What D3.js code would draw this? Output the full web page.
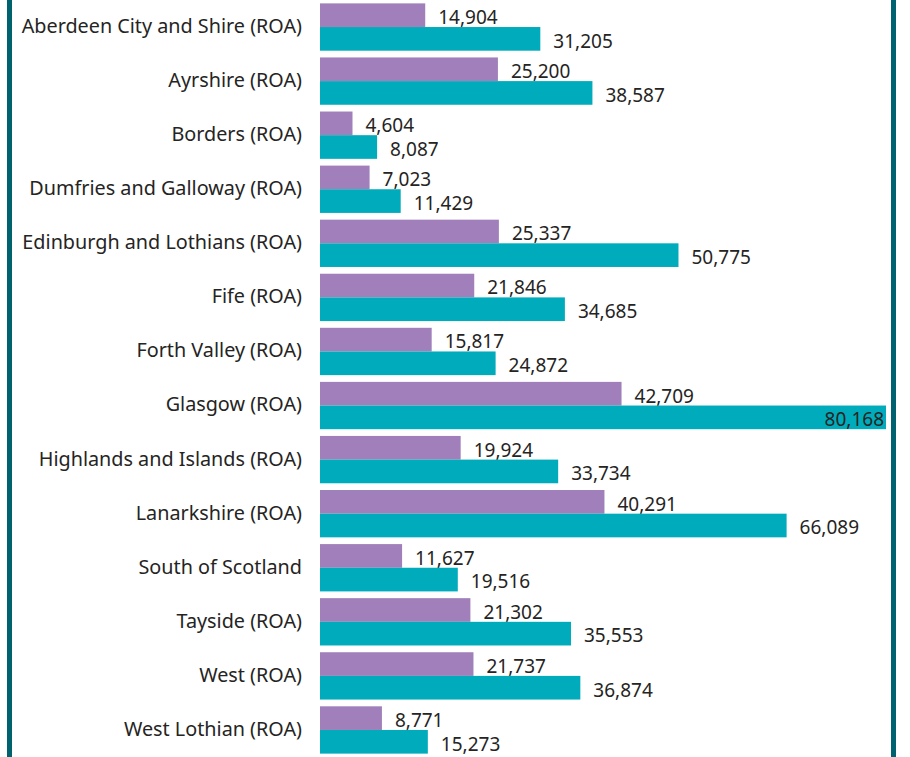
<!DOCTYPE html>
<html>
<head>
<meta charset="utf-8">
<script src="https://cdn.jsdelivr.net/npm/d3@7"></script>
<style>
html,body{margin:0;padding:0;background:#fff;}
svg{display:block;}
</style>
</head>
<body>
<svg id="chart" width="910" height="757"></svg>
<script>
const categories = [
  "Aberdeen City and Shire (ROA)",
  "Ayrshire (ROA)",
  "Borders (ROA)",
  "Dumfries and Galloway (ROA)",
  "Edinburgh and Lothians (ROA)",
  "Fife (ROA)",
  "Forth Valley (ROA)",
  "Glasgow (ROA)",
  "Highlands and Islands (ROA)",
  "Lanarkshire (ROA)",
  "South of Scotland",
  "Tayside (ROA)",
  "West (ROA)",
  "West Lothian (ROA)"
];
const seriesNames = ["Series A", "Series B"];
const seriesA = [14904, 25200, 4604, 7023, 25337, 21846, 15817, 42709, 19924, 40291, 11627, 21302, 21737, 8771];
const seriesB = [31205, 38587, 8087, 11429, 50775, 34685, 24872, 80168, 33734, 66089, 19516, 35553, 36874, 15273];
const colors = ["#a07fba", "#00abbb"];

const svg = d3.select("#chart");
const W = 910, H = 757;
const x0 = 320, x1 = 886;
const fmt = d3.format(",");

const x = d3.scaleLinear().domain([0, d3.max(seriesB)]).range([x0, x1]);
const y = d3.scaleBand().domain(categories).range([0, H]).paddingInner(0.125).paddingOuter(0.0625);
const ySub = d3.scaleBand().domain(seriesNames).range([0, y.bandwidth()]);

const font = "'Noto Sans', 'Open Sans', sans-serif";

// frame borders
svg.append("rect").attr("x", 7).attr("y", 0).attr("width", 5).attr("height", H).attr("fill", "#00616f");
svg.append("rect").attr("x", 891).attr("y", 0).attr("width", 5).attr("height", H).attr("fill", "#00616f");

// category axis
const yAxis = d3.axisLeft(y).tickSize(0).tickPadding(18);
const gy = svg.append("g").attr("transform", `translate(${x0},0)`).call(yAxis);
gy.select(".domain").remove();
gy.selectAll("text")
  .attr("font-family", font)
  .attr("font-size", "19.8px")
  .attr("dy", "0.3em")
  .attr("fill", "#252423");

const rows = categories.map((c, i) => ({cat: c, vals: [seriesA[i], seriesB[i]]}));
const g = svg.append("g");
rows.forEach(r => {
  r.vals.forEach((v, k) => {
    const yy = y(r.cat) + ySub(seriesNames[k]);
    g.append("rect")
      .attr("x", x(0)).attr("y", yy)
      .attr("width", x(v) - x(0)).attr("height", ySub.bandwidth())
      .attr("fill", colors[k]);
    const inside = x(v) + 80 > W - 20;
    g.append("text")
      .attr("x", inside ? x(v) - 2 : x(v) + 13)
      .attr("y", yy + ySub.bandwidth() - 3)
      .attr("text-anchor", inside ? "end" : "start")
      .attr("font-family", font)
      .attr("font-size", "19px")
      .attr("fill", "#252423")
      .text(fmt(v));
  });
});
</script>
</body>
</html>
